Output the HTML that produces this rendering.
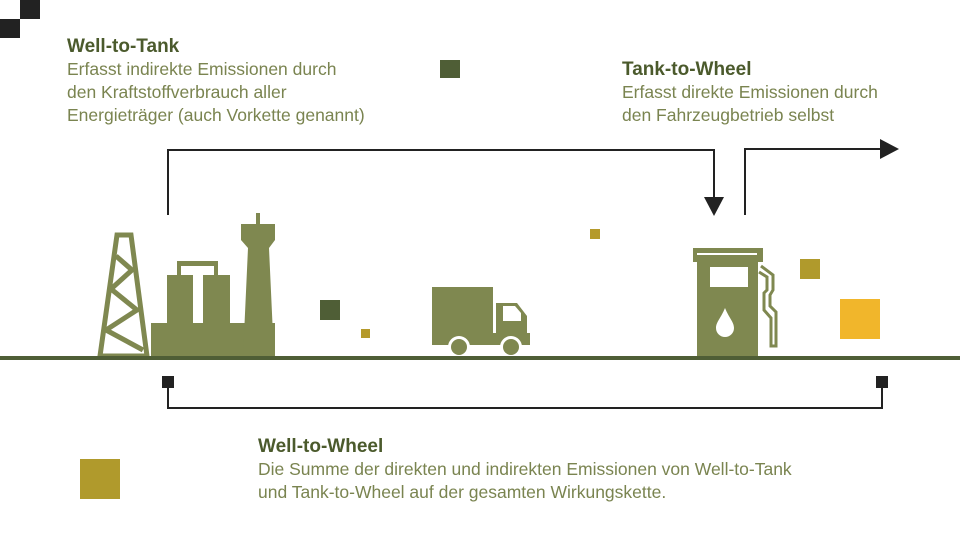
<!DOCTYPE html>
<html><head><meta charset="utf-8"><style>
html,body{margin:0;padding:0;background:#fff;width:960px;height:539px;overflow:hidden}
svg{display:block}
.h{font-family:"Liberation Sans",sans-serif;font-weight:bold;font-size:19px;fill:#4b5a2c}
.b{font-family:"Liberation Sans",sans-serif;font-size:17.5px;fill:#7a8450}
</style></head><body>
<svg width="960" height="539" viewBox="0 0 960 539">
<rect x="20" y="0" width="20" height="19" fill="#222"/>
<rect x="0" y="19" width="20" height="19" fill="#222"/>
<text class="h" x="67" y="52">Well-to-Tank</text>
<text class="b" x="67" y="75">Erfasst indirekte Emissionen durch</text>
<text class="b" x="67" y="98">den Kraftstoffverbrauch aller</text>
<text class="b" x="67" y="121">Energieträger (auch Vorkette genannt)</text>
<text class="h" x="622" y="75">Tank-to-Wheel</text>
<text class="b" x="622" y="98">Erfasst direkte Emissionen durch</text>
<text class="b" x="622" y="121">den Fahrzeugbetrieb selbst</text>
<text class="h" x="258" y="452">Well-to-Wheel</text>
<text class="b" x="258" y="475">Die Summe der direkten und indirekten Emissionen von Well-to-Tank</text>
<text class="b" x="258" y="498">und Tank-to-Wheel auf der gesamten Wirkungskette.</text>
<rect x="440" y="60" width="20" height="18" fill="#4f5e36"/>
<rect x="320" y="300" width="20" height="20" fill="#4f5e36"/>
<rect x="361" y="329" width="9" height="9" fill="#b59a2b"/>
<rect x="590" y="229" width="10" height="10" fill="#b59a2b"/>
<rect x="800" y="259" width="20" height="20" fill="#b09a2c"/>
<rect x="840" y="299" width="40" height="40" fill="#f1b62b"/>
<rect x="80" y="459" width="40" height="40" fill="#b09a2c"/>
<polyline points="168,215 168,150 714,150 714,200" fill="none" stroke="#222" stroke-width="2"/>
<polygon points="704,197 724,197 714,216" fill="#222"/>
<polyline points="745,215 745,149 882,149" fill="none" stroke="#222" stroke-width="2"/>
<polygon points="880,139 880,159 899,149" fill="#222"/>
<rect x="162" y="376" width="12" height="12" fill="#222"/>
<rect x="876" y="376" width="12" height="12" fill="#222"/>
<polyline points="168,388 168,408 882,408 882,388" fill="none" stroke="#222" stroke-width="2"/>
<g fill="none" stroke="#7f8850" stroke-width="5" stroke-linejoin="miter">
<polygon points="117,235 131,235 147,356 100,356"/>
<polyline points="116,256 132,270 111,289 137,310 106,330 143,350"/>
</g>
<g fill="#7f8850">
<rect x="151" y="323" width="124" height="34"/>
<rect x="167" y="275" width="26" height="50"/>
<rect x="203" y="275" width="27" height="50"/>
<rect x="177" y="261" width="41" height="5"/>
<rect x="177" y="261" width="4" height="15"/>
<rect x="214" y="261" width="4" height="15"/>
<rect x="256" y="213" width="4" height="12"/>
<polygon points="241,224 275,224 275,240 269,248 274,357 243,357 248,248 241,240"/>
</g>
<g fill="#7f8850">
<rect x="432" y="287" width="61" height="46"/>
<path d="M496,303 H517 L527,316 V333 H496 Z"/>
<rect x="432" y="333" width="98" height="12"/>
<circle cx="459" cy="347" r="11" fill="#fff"/>
<circle cx="511" cy="347" r="11" fill="#fff"/>
<circle cx="459" cy="347" r="8"/>
<circle cx="511" cy="347" r="8"/>
</g>
<path d="M503,306 H515 L521,313 V321 H503 Z" fill="#fff"/>
<g fill="#7f8850">
<rect x="693" y="248" width="70" height="14"/>
<rect x="697" y="260" width="61" height="97"/>
</g>
<rect x="697" y="253" width="60" height="2" fill="#fff"/>
<rect x="710" y="267" width="38" height="20" fill="#fff"/>
<path d="M725,308 C729,318 734,322 734,328 A9,9 0 0 1 716,328 C716,322 721,318 725,308 Z" fill="#fff"/>
<path d="M759,272 L767,277 V290 L764,293 V310 L771,318 V346 H776 V312 L770,306 V295 L773,290 V275 L761,266" fill="none" stroke="#7f8850" stroke-width="3"/>
<rect x="0" y="356" width="960" height="4" fill="#4f5e36"/>
</svg>
</body></html>
